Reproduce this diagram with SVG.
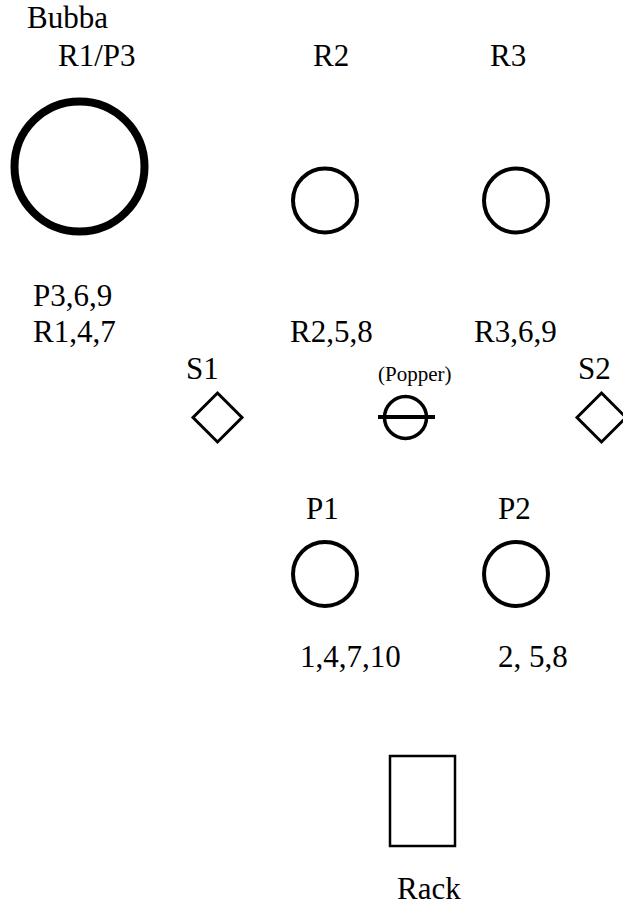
<svg xmlns="http://www.w3.org/2000/svg" width="623" height="907" viewBox="0 0 623 907">
<style>
text{font-family:"Liberation Serif","Tinos","Times New Roman","DejaVu Serif",serif;font-size:31px;fill:#000}
.sm{font-size:21px}
.s{fill:none;stroke:#000}
</style>
<rect width="623" height="907" fill="#fff"/>
<g id="bubba">
<text x="27" y="28">Bubba</text>
<text x="58" y="66">R1/P3</text>
<circle class="s" cx="79.5" cy="166.5" r="65" stroke-width="8"/>
<text x="33" y="306">P3,6,9</text>
<text x="33" y="342">R1,4,7</text>
</g>
<g id="r2">
<text x="313" y="66">R2</text>
<circle class="s" cx="325" cy="200.5" r="32" stroke-width="4"/>
<text x="290" y="342">R2,5,8</text>
</g>
<g id="r3">
<text x="490" y="66">R3</text>
<circle class="s" cx="516" cy="200.5" r="32" stroke-width="4"/>
<text x="474" y="342">R3,6,9</text>
</g>
<g id="s1">
<text x="186" y="379">S1</text>
<path class="s" d="M217.5 393 L242 417.5 L217.5 442 L193 417.5 Z" stroke-width="3"/>
</g>
<g id="popper">
<text class="sm" x="378" y="381">(Popper)</text>
<circle class="s" cx="405.5" cy="417.5" r="21" stroke-width="3.5"/>
<line class="s" x1="378" y1="417" x2="435" y2="417" stroke-width="4"/>
</g>
<g id="s2">
<text x="578" y="379">S2</text>
<path class="s" d="M601.5 393 L626 417.5 L601.5 442 L577 417.5 Z" stroke-width="3"/>
</g>
<g id="p1">
<text x="306" y="519">P1</text>
<circle class="s" cx="325" cy="574" r="32" stroke-width="4"/>
<text x="300" y="667">1,4,7,10</text>
</g>
<g id="p2">
<text x="498" y="519">P2</text>
<circle class="s" cx="516" cy="574" r="32" stroke-width="4"/>
<text x="498" y="667">2, 5,8</text>
</g>
<g id="rack">
<rect class="s" x="390" y="756" width="65" height="90" stroke-width="2.5"/>
<text x="397" y="899">Rack</text>
</g>
<g id="connectors"/>
</svg>
